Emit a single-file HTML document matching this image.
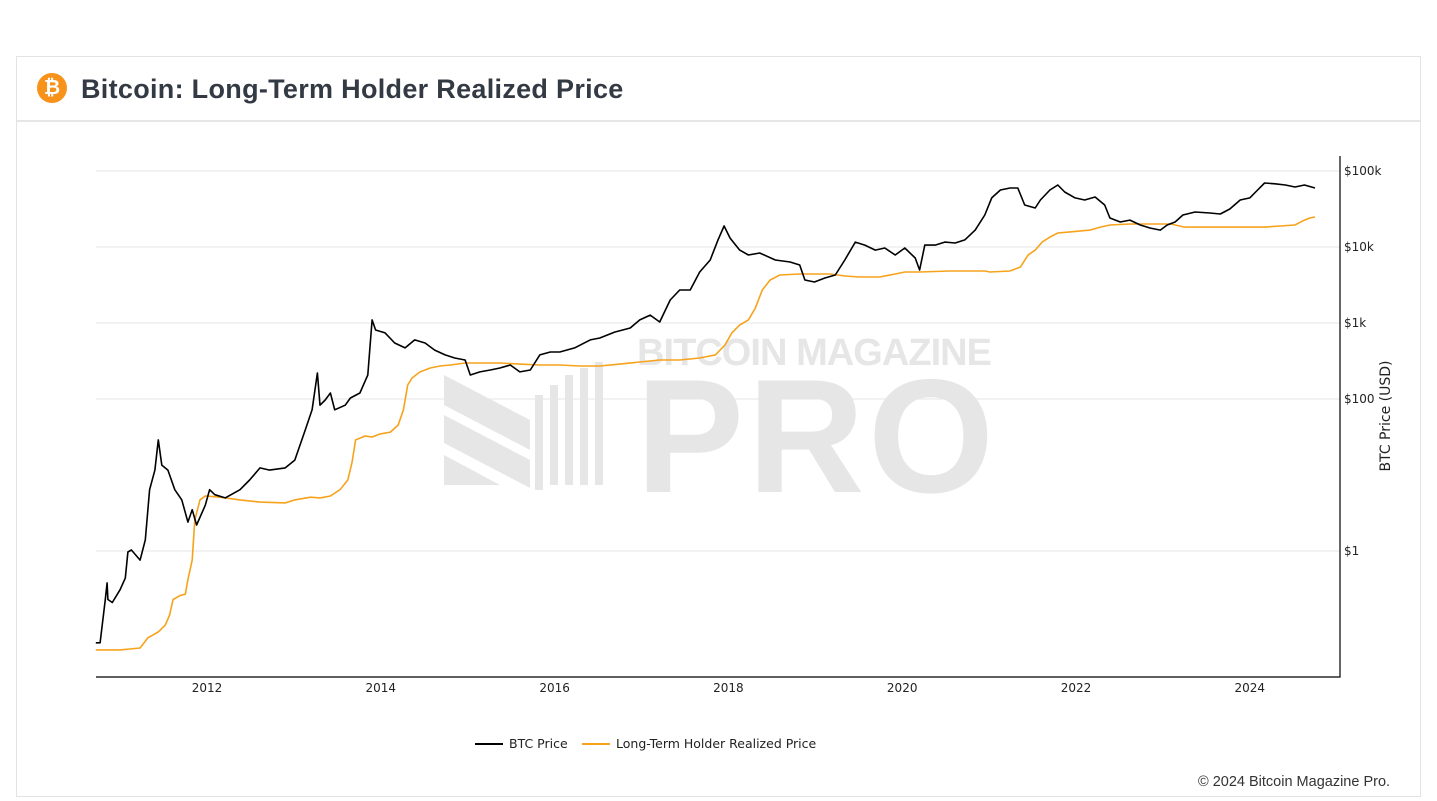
<!DOCTYPE html>
<html><head><meta charset="utf-8"><style>
body{margin:0;background:#fff;width:1437px;height:801px;overflow:hidden;font-family:"Liberation Sans",sans-serif;}
#card{position:absolute;left:16px;top:56px;width:1405px;height:741px;border:1px solid #e3e3e3;box-sizing:border-box;}
#hdr{position:absolute;left:0;top:0;width:100%;height:63px;border-bottom:2px solid #e6e6e6;}
#title{position:absolute;left:64px;top:17px;font-size:27px;font-weight:bold;color:#333a44;letter-spacing:0.3px;}
#icon{position:absolute;left:20px;top:16px;width:30px;height:30px;border-radius:50%;background:#f7931a;color:#fff;font-weight:bold;font-size:20px;text-align:center;line-height:30px;}
#copy{position:absolute;left:1198px;top:774px;font-size:14.5px;color:#333;}
svg text{font-family:"DejaVu Sans",sans-serif;}
</style></head><body>
<div id="card">
<div id="hdr">
<div id="icon">₿</div>
<div id="title">Bitcoin: Long-Term Holder Realized Price</div>
</div></div>
<svg id="chart" width="1437" height="801" style="position:absolute;left:0;top:0">
<g id="wm" fill="#e6e6e6">
<polygon points="444,375 530,420 530,450 444,405"/><polygon points="444,415 530,460 530,488 444,443"/><polygon points="444,455 500,485 444,485"/>
<rect x="535" y="395" width="8" height="95"/><rect x="550" y="385" width="8" height="100"/><rect x="565" y="375" width="8" height="110"/><rect x="580" y="368" width="8" height="117"/><rect x="595" y="362" width="8" height="123"/>
<text x="637" y="365" font-size="38" font-weight="bold" style="font-family:'Liberation Sans',sans-serif" textLength="355">BITCOIN MAGAZINE</text>
<text x="636" y="492" font-size="162" font-weight="bold" style="font-family:'Liberation Sans',sans-serif" textLength="358">PRO</text>
</g>
<g id="grid"></g><g id="series"></g><g id="axes"></g>
<g>
<line x1="475" y1="744" x2="503" y2="744" stroke="#000" stroke-width="2"/>
<text x="509" y="748" font-size="12.5" fill="#222">BTC Price</text>
<line x1="582" y1="744" x2="610" y2="744" stroke="#f7a21b" stroke-width="2"/>
<text x="616" y="748" font-size="12.5" fill="#222">Long-Term Holder Realized Price</text>
</g>
</svg>
<div id="copy">© 2024 Bitcoin Magazine Pro.</div>
<script>
const btcYears=[2010.72,2010.77,2010.83,2010.85,2010.86,2010.91,2011.0,2011.06,2011.09,2011.13,2011.23,2011.29,2011.34,2011.40,2011.44,2011.48,2011.55,2011.63,2011.71,2011.78,2011.83,2011.88,2011.98,2012.03,2012.09,2012.21,2012.38,2012.49,2012.61,2012.72,2012.90,2013.01,2013.13,2013.21,2013.27,2013.30,2013.36,2013.42,2013.47,2013.59,2013.65,2013.76,2013.85,2013.90,2013.94,2014.05,2014.16,2014.28,2014.39,2014.51,2014.62,2014.74,2014.85,2014.97,2015.03,2015.14,2015.26,2015.37,2015.49,2015.60,2015.72,2015.83,2015.95,2016.06,2016.23,2016.41,2016.52,2016.69,2016.87,2016.98,2017.10,2017.21,2017.33,2017.44,2017.56,2017.67,2017.79,2017.88,2017.95,2018.02,2018.13,2018.23,2018.36,2018.54,2018.71,2018.82,2018.88,2018.99,2019.11,2019.23,2019.34,2019.46,2019.57,2019.69,2019.80,2019.92,2020.03,2020.15,2020.20,2020.26,2020.38,2020.49,2020.61,2020.72,2020.84,2020.95,2021.03,2021.13,2021.24,2021.33,2021.41,2021.53,2021.59,2021.70,2021.79,2021.87,2021.99,2022.10,2022.22,2022.33,2022.39,2022.51,2022.62,2022.74,2022.85,2022.97,2023.05,2023.14,2023.23,2023.37,2023.54,2023.66,2023.77,2023.89,2024.00,2024.09,2024.17,2024.29,2024.41,2024.52,2024.63,2024.75];
const btcPrice=[0.062,0.062,0.23,0.38,0.23,0.21,0.31,0.44,0.97,1.03,0.76,1.4,6.4,11.6,29,13.5,11.6,6.4,4.7,2.4,3.5,2.2,4.0,6.4,5.5,5.0,6.4,8.6,12.4,11.6,12.4,15.7,39,72,220,83,97,120,72,83,103,120,207,1100,810,740,545,470,600,545,440,380,346,326,207,227,241,256,280,227,241,380,415,415,470,600,635,760,860,1100,1270,1030,2010,2720,2720,4690,6740,12400,18900,13100,9100,7850,8340,6740,6350,5800,3680,3460,3910,4280,6740,11600,10600,9100,9700,7850,9700,7170,4980,10600,10600,11600,11300,12400,16700,26400,44200,56200,59700,59700,35700,32600,41500,56200,65500,52900,44200,41500,45500,35700,24100,21300,22600,19500,17800,16700,19500,21300,26400,28900,28000,27200,31600,41500,44200,56200,69500,67900,65500,61500,65500,59700];
const lthYears=[2010.72,2011.0,2011.23,2011.32,2011.44,2011.52,2011.57,2011.61,2011.69,2011.75,2011.78,2011.83,2011.86,2011.92,2011.98,2012.15,2012.38,2012.61,2012.90,2013.01,2013.19,2013.30,2013.42,2013.53,2013.62,2013.67,2013.71,2013.82,2013.90,2013.99,2014.11,2014.20,2014.26,2014.31,2014.36,2014.45,2014.57,2014.68,2014.80,2014.97,2015.14,2015.37,2015.60,2015.83,2016.06,2016.29,2016.52,2016.75,2016.98,2017.21,2017.44,2017.67,2017.85,2017.96,2018.04,2018.13,2018.23,2018.31,2018.39,2018.48,2018.59,2018.82,2019.17,2019.34,2019.51,2019.74,2019.92,2020.03,2020.20,2020.55,2020.95,2021.01,2021.24,2021.36,2021.45,2021.53,2021.61,2021.70,2021.79,2021.93,2022.16,2022.28,2022.39,2022.62,2022.85,2023.09,2023.25,2023.43,2023.89,2024.17,2024.35,2024.52,2024.63,2024.69,2024.75];
const lthPrice=[0.05,0.05,0.053,0.072,0.086,0.106,0.144,0.23,0.26,0.27,0.42,0.76,2.56,4.7,5.3,5.1,4.7,4.4,4.3,4.7,5.1,5.0,5.3,6.4,8.6,14.8,29,32.6,31.6,34.6,36.7,45.5,72,153,189,227,256,272,280,298,298,298,288,280,280,272,272,288,307,326,326,346,380,514,740,940,1100,1570,2720,3680,4280,4410,4410,4150,4030,4030,4410,4690,4690,4830,4830,4690,4830,5460,7850,9100,11600,13500,15300,15800,16700,18300,19500,20100,20100,20100,18300,18300,18300,18300,18900,19500,22600,24100,24800];
const yTickVals=[1,100,1000,10000,100000];
const yTickLabels=["$1","$100","$1k","$10k","$100k"];
const xTickYears=[2012,2014,2016,2018,2020,2022,2024];
const NS="http://www.w3.org/2000/svg";
function xs(yr){return 207+(yr-2012)*86.9;}
function ys(p){return 551-Math.log10(p)*76;}
function mk(tag,attrs,parent){const e=document.createElementNS(NS,tag);for(const k in attrs)e.setAttribute(k,attrs[k]);parent.appendChild(e);return e;}
const grid=document.getElementById('grid'),axes=document.getElementById('axes'),ser=document.getElementById('series');
yTickVals.forEach((v,i)=>{
 const l=mk('line',{x1:96,x2:1340,y1:ys(v),y2:ys(v),stroke:'#e6e6e6','stroke-width':1},grid);
 
 
 const t=mk('text',{x:1344,y:ys(v)+4,'font-size':12,fill:'#222'},axes);
 t.textContent=yTickLabels[i];
 
 
});
xTickYears.forEach(y=>{
 const t=mk('text',{x:xs(y),y:692,'font-size':12,fill:'#222','text-anchor':'middle'},axes);
 t.textContent=y;
 
 
});
const ax=mk('path',{d:'M96,677H1340V156',fill:'none',stroke:'#000','stroke-width':1.2},axes);


const yt=mk('text',{x:0,y:0,'font-size':14,fill:'#222','text-anchor':'middle',transform:'translate(1390,416) rotate(-90)'},axes);
yt.textContent='BTC Price (USD)';


function line(xsA,ysA){return xsA.map((y,i)=>(i?'L':'M')+xs(y).toFixed(1)+','+ys(ysA[i]).toFixed(1)).join('');}
const lp=mk('path',{d:line(lthYears,lthPrice),fill:'none',stroke:'#f7a21b','stroke-width':1.6},ser);


const bp=mk('path',{d:line(btcYears,btcPrice),fill:'none',stroke:'#000','stroke-width':1.6,'stroke-linejoin':'round'},ser);


</script>
</body></html>
